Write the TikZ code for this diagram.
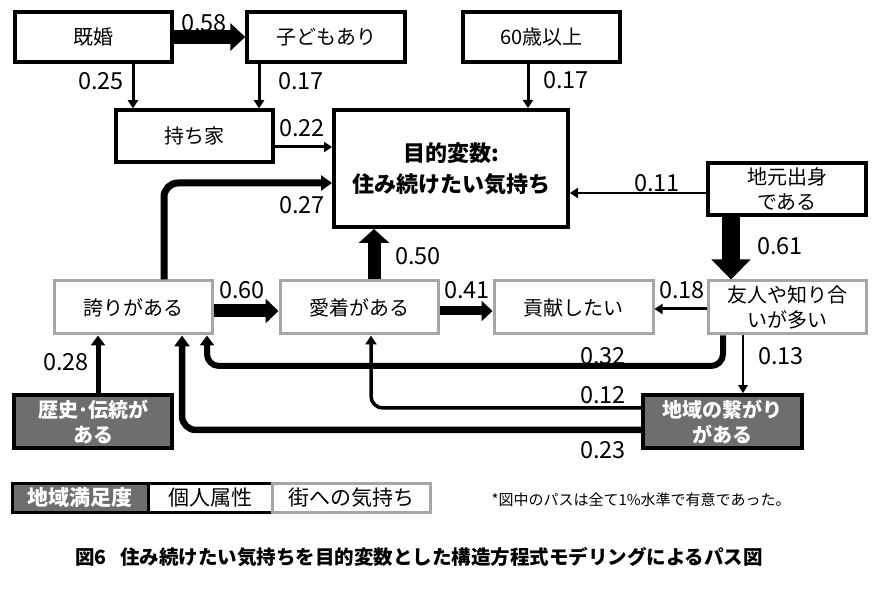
\documentclass[tikz,border=0pt]{standalone}
\usepackage{fontspec}
\setmainfont{Noto Sans CJK JP}
\usetikzlibrary{arrows.meta}
\definecolor{gbord}{HTML}{A6A6A6}
\definecolor{gfill}{HTML}{6E6E6E}
\begin{document}
\begin{tikzpicture}[x=1pt,y=-1pt,
 every node/.style={inner sep=0pt, font=\fontsize{20}{25}\selectfont},
 pbox/.style={draw=black, line width=3.5pt, fill=white, align=center},
 tbox/.style={draw=gbord, line width=3pt, fill=white, align=center},
 rbox/.style={draw=black, line width=3.5pt, fill=gfill, text=white, align=center, font=\fontsize{20}{25}\selectfont\bfseries},
 lbl/.style={font=\fontsize{23.5}{24}\selectfont},
 thin/.style={line width=3pt, -{Triangle[width=10pt,length=8pt]}},
]
\useasboundingbox (0,0) rectangle (884,593);

% nodes
\node[pbox, minimum width=157, minimum height=50] (kikon) at (93.5,37) {既婚};
\node[pbox, minimum width=158, minimum height=50] (kodomo) at (326,37) {子どもあり};
\node[pbox, minimum width=157, minimum height=50] (sixty) at (541.5,37) {60歳以上};
\node[pbox, minimum width=157, minimum height=52] (mochi) at (194.5,136) {持ち家};
\node[pbox, line width=4pt, minimum width=234, minimum height=117,
      font=\fontsize{22}{31}\selectfont\bfseries] (goal) at (451,168.5) {目的変数:\\住み続けたい気持ち};
\node[pbox, minimum width=158, minimum height=52] (jimoto) at (787,189) {地元出身\\である};
\node[tbox, minimum width=158, minimum height=53] (hokori) at (133,307.5) {誇りがある};
\node[tbox, minimum width=158, minimum height=53] (aichaku) at (359,307.5) {愛着がある};
\node[tbox, minimum width=159, minimum height=53] (kouken) at (573.5,307.5) {貢献したい};
\node[tbox, minimum width=158, minimum height=53] (yujin) at (787,307.5) {友人や知り合\\いが多い};
\node[rbox, minimum width=158, minimum height=53] (rekishi) at (93,421.5) {歴史･伝統が\\ある};
\node[rbox, minimum width=159, minimum height=53] (tsuna) at (722.5,421.5) {地域の繋がり\\がある};

% connectors
\draw[line width=14pt, -{Triangle[width=27pt,length=15pt]}] (kikon.east) -- (kodomo.west);
\draw[thin] (133,0 |- kikon.south) -- (133,0 |- mochi.north);
\draw[thin] (259,0 |- kodomo.south) -- (259,0 |- mochi.north);
\draw[thin] (528,0 |- sixty.south) -- (528,0 |- goal.north);
\draw[thin] (mochi.east |- 0,147) -- (goal.west |- 0,147);
\draw[line width=7pt, -{Triangle[width=15pt,length=11pt]}, rounded corners=14pt]
  (164,0 |- hokori.north) |- (goal.west |- 0,183);
\draw[line width=2.8pt, -{Triangle[width=10pt,length=8pt]}] (jimoto.west |- 0,193) -- (goal.east |- 0,193);
\draw[line width=18pt, -{Triangle[width=38pt,length=20pt]}] (731,0 |- jimoto.south) -- (731,0 |- yujin.north);
\draw[line width=13pt, -{Triangle[width=30pt,length=14pt]}] (374,0 |- aichaku.north) -- (374,0 |- goal.south);
\draw[line width=13pt, -{Triangle[width=24pt,length=13pt]}] (hokori.east |- 0,311) -- (aichaku.west |- 0,311);
\draw[line width=9pt, -{Triangle[width=20pt,length=11pt]}] (aichaku.east |- 0,311) -- (kouken.west |- 0,311);
\draw[thin] (yujin.west |- 0,309) -- (kouken.east |- 0,309);
\draw[line width=6pt, -{Triangle[width=14pt,length=10pt]}, rounded corners=12pt]
  (723,0 |- yujin.south) |- (450,366) -| (207,0 |- hokori.south);
\draw[line width=2.5pt, -{Triangle[width=9pt,length=8pt]}] (743,0 |- yujin.south) -- (743,0 |- tsuna.north);
\draw[line width=3.5pt, -{Triangle[width=11pt,length=9pt]}, rounded corners=12pt]
  (tsuna.west |- 0,408) -| (371,0 |- aichaku.south);
\draw[line width=6.5pt, -{Triangle[width=15pt,length=11pt]}, rounded corners=14pt]
  (tsuna.west |- 0,430) -| (182,0 |- hokori.south);
\draw[line width=5pt, -{Triangle[width=14pt,length=10pt]}] (98,0 |- rekishi.north) -- (98,0 |- hokori.south);

% labels
\node[lbl] (l058) at (204,23) {0.58};
\node[lbl] (l025a) at (101,81) {0.25};
\node[lbl] (l017a) at (301,81) {0.17};
\node[lbl] (l022) at (302,128) {0.22};
\node[lbl] (l027) at (302,205) {0.27};
\node[lbl] (l017b) at (566,80) {0.17};
\node[lbl] (l011) at (657,183) {0.11};
\node[lbl] (l061) at (780,246) {0.61};
\node[lbl] (l050) at (418,256) {0.50};
\node[lbl] (l060) at (242,290) {0.60};
\node[lbl] (l041) at (467,290) {0.41};
\node[lbl] (l018) at (682,290) {0.18};
\node[lbl] (l032) at (603,356) {0.32};
\node[lbl] (l013) at (781,356) {0.13};
\node[lbl] (l012) at (603,395) {0.12};
\node[lbl] (l023) at (603,450) {0.23};
\node[lbl] (l028) at (66,362) {0.28};

% legend
\node[draw=black, line width=3pt, fill=gfill, text=white, minimum width=136, minimum height=29,
      font=\fontsize{21}{24}\selectfont\bfseries] (lg1) at (80,498) {地域満足度};
\node[draw=black, line width=3pt, fill=white, minimum width=124, minimum height=29,
      font=\fontsize{21}{24}\selectfont] (lg2) at (210,498) {個人属性};
\node[draw=gbord, line width=3pt, fill=white, minimum width=158, minimum height=29,
      font=\fontsize{21}{24}\selectfont] (lg3) at (351,498) {街への気持ち};
\node[font=\fontsize{15}{16}\selectfont] (note) at (641,500) {*図中のパスは全て1\%水準で有意であった。};
\node[font=\fontsize{19.5}{22}\selectfont\bfseries] (cap) at (419,557) {図6\hspace{0.7em}住み続けたい気持ちを目的変数とした構造方程式モデリングによるパス図};
\end{tikzpicture}
\end{document}
